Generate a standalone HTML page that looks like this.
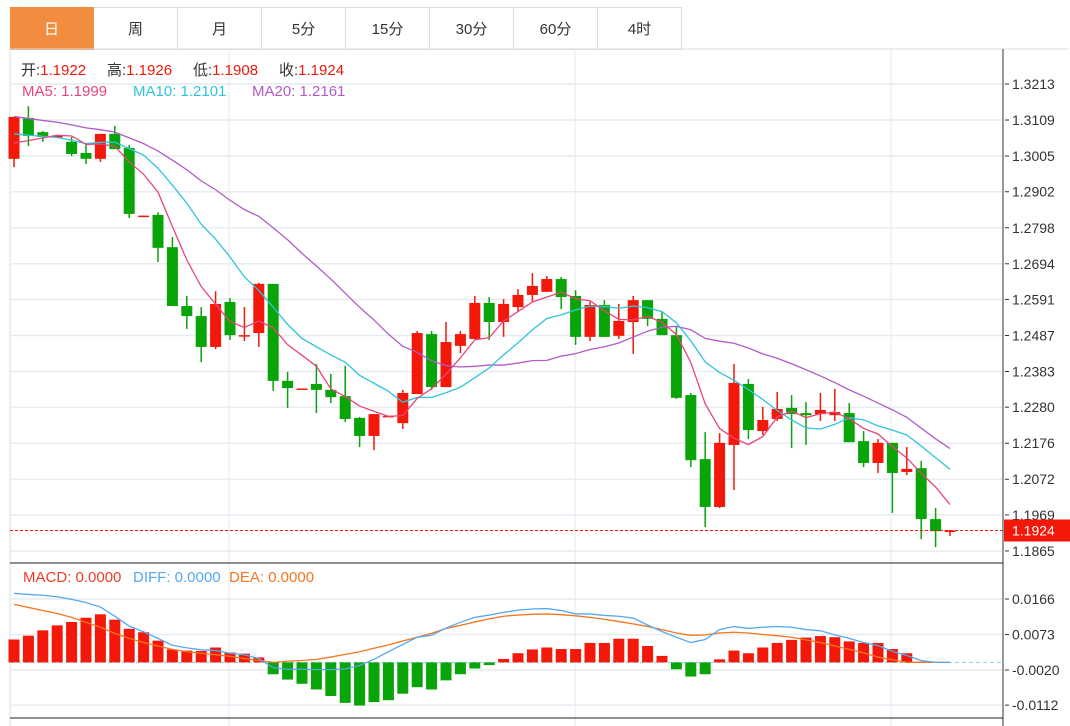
<!DOCTYPE html>
<html><head><meta charset="utf-8">
<style>
body{margin:0;background:#fff;width:1070px;height:726px;overflow:hidden;font-family:"Liberation Sans","Noto Sans CJK SC",sans-serif;}
#tabs{position:absolute;left:10px;top:7px;height:42px;display:flex;}
.tab{width:83px;height:41px;border:1px solid #dcdcdc;border-left:none;display:flex;align-items:center;justify-content:center;font-size:15px;color:#333;background:#fff;}
.tab.active{background:#f28d40;color:#fff;border-color:#f28d40;}
svg{position:absolute;left:0;top:0;}
</style></head><body>
<div id="tabs">
<div class="tab active">日</div>
<div class="tab">周</div>
<div class="tab">月</div>
<div class="tab">5分</div>
<div class="tab">15分</div>
<div class="tab">30分</div>
<div class="tab">60分</div>
<div class="tab">4时</div>
</div>
<svg id="chart" width="1070" height="726" font-family="Liberation Sans, Noto Sans CJK SC, sans-serif">
<line x1="10" y1="49" x2="1068" y2="49" stroke="#dcdcdc"/>
<line x1="10" y1="49" x2="10" y2="726" stroke="#dcdcdc"/>
<g id="grid"></g>
<g id="main"></g>
<g id="macd"></g>
<line x1="1003" y1="49" x2="1003" y2="726" stroke="#333"/>
<line x1="10" y1="563" x2="1003" y2="563" stroke="#222"/>
<line x1="10" y1="718" x2="1003" y2="718" stroke="#222"/>
<g id="axis"></g>
<g font-size="15">
<text x="21" y="75"><tspan fill="#333">开:</tspan><tspan fill="#f0180a">1.1922</tspan></text>
<text x="107" y="75"><tspan fill="#333">高:</tspan><tspan fill="#f0180a">1.1926</tspan></text>
<text x="193" y="75"><tspan fill="#333">低:</tspan><tspan fill="#f0180a">1.1908</tspan></text>
<text x="279" y="75"><tspan fill="#333">收:</tspan><tspan fill="#f0180a">1.1924</tspan></text>
</g>
<g font-size="15">
<text x="22" y="96" fill="#e9457a">MA5: 1.1999</text>
<text x="133" y="96" fill="#2ec4dd">MA10: 1.2101</text>
<text x="252" y="96" fill="#b05cc6">MA20: 1.2161</text>
</g>
<g font-size="15">
<text x="23" y="582" fill="#ee3a2a">MACD: 0.0000</text>
<text x="133" y="582" fill="#55a8f0">DIFF: 0.0000</text>
<text x="229" y="582" fill="#f7751e">DEA: 0.0000</text>
</g>
</svg>
<script>
const opens=[1.2997,1.3115,1.3074,1.3060,1.3046,1.3014,1.2997,1.3069,1.3028,1.2832,1.2835,1.2742,1.2572,1.2543,1.2454,1.2584,1.2486,1.2494,1.2636,1.2356,1.2333,1.2347,1.2330,1.2312,1.2249,1.2197,1.2254,1.2234,1.2318,1.2491,1.2338,1.2457,1.2477,1.2581,1.2526,1.2569,1.2604,1.2613,1.2650,1.2601,1.2483,1.2575,1.2486,1.2526,1.2589,1.2535,1.2488,1.2315,1.2130,1.1992,1.2171,1.2347,1.2211,1.2246,1.2278,1.2263,1.2260,1.2257,1.2263,1.2182,1.2119,1.2177,1.2093,1.2104,1.1957,1.1922];
const highs=[1.3118,1.3149,1.3077,1.3063,1.3060,1.3043,1.3069,1.3092,1.3037,1.2833,1.2843,1.2771,1.2601,1.2569,1.2615,1.2595,1.2569,1.2639,1.2636,1.2382,1.2334,1.2405,1.2376,1.2399,1.2252,1.2260,1.2255,1.2330,1.2500,1.2500,1.2526,1.2500,1.2601,1.2598,1.2592,1.2621,1.2667,1.2659,1.2656,1.2618,1.2584,1.2589,1.2578,1.2601,1.2589,1.2555,1.2512,1.2321,1.2208,1.2205,1.2405,1.2361,1.2281,1.2324,1.2315,1.2295,1.2321,1.2333,1.2292,1.2211,1.2188,1.2177,1.2165,1.2125,1.1989,1.1926];
const lows=[1.2973,1.3034,1.3046,1.3060,1.3005,1.2982,1.2988,1.3025,1.2826,1.2832,1.2699,1.2572,1.2506,1.2410,1.2448,1.2474,1.2471,1.2454,1.2327,1.2278,1.2333,1.2263,1.2292,1.2237,1.2165,1.2156,1.2254,1.2217,1.2318,1.2330,1.2338,1.2436,1.2477,1.2474,1.2483,1.2555,1.2584,1.2613,1.2563,1.2460,1.2471,1.2483,1.2477,1.2434,1.2514,1.2488,1.2304,1.2107,1.1934,1.1989,1.2041,1.2188,1.2200,1.2240,1.2162,1.2171,1.2240,1.2240,1.2179,1.2107,1.2090,1.1975,1.2084,1.1899,1.1876,1.1908];
const closes=[1.3118,1.3063,1.3060,1.3063,1.3011,1.2997,1.3069,1.3025,1.2838,1.2833,1.2740,1.2572,1.2543,1.2454,1.2578,1.2488,1.2488,1.2636,1.2356,1.2335,1.2334,1.2330,1.2309,1.2246,1.2197,1.2260,1.2255,1.2321,1.2494,1.2338,1.2468,1.2491,1.2581,1.2526,1.2578,1.2604,1.2630,1.2650,1.2598,1.2483,1.2575,1.2483,1.2529,1.2589,1.2535,1.2488,1.2307,1.2127,1.1992,1.2177,1.2350,1.2214,1.2243,1.2275,1.2260,1.2257,1.2272,1.2266,1.2179,1.2119,1.2177,1.2090,1.2102,1.1957,1.1922,1.1924];
const priorCloses=[1.3170,1.3175,1.3168,1.3165,1.3170,1.3172,1.3166,1.3168,1.3165,1.3171,1.3100,1.3092,1.3098,1.3090,1.3095,1.3030,1.3020,1.3025,1.3021];
const priceTicks=["1.3213","1.3109","1.3005","1.2902","1.2798","1.2694","1.2591","1.2487","1.2383","1.2280","1.2176","1.2072","1.1969","1.1865"];
const macdHist=[60,70,84,97,106,117,126,112,88,79,57,34,31,30,39,26,23,13,-31,-45,-56,-71,-88,-106,-113,-104,-99,-82,-65,-71,-47,-31,-16,-7,9,24,34,39,35,35,51,51,62,62,43,17,-18,-37,-31,8,31,24,39,51,59,65,69,66,55,51,51,35,24,2,1,0];
const diffVals=[181,178,176,172,165,157,145,121,95,80,63,45,38,33,31,24,20,10,-14,-18,-18,-19,-19,-17,-8,8,28,47,66,71,90,105,118,124,131,137,140,141,136,127,127,123,121,116,98,81,66,52,60,86,94,89,92,94,92,86,83,72,63,52,44,29,18,5,0,0];
const deaVals=[152,144,136,128,118,105,92,76,63,52,43,34,28,24,20,16,10,5,0,3,5,8,14,21,28,37,46,56,66,76,89,97,106,114,121,124,126,127,125,122,118,113,107,101,94,86,77,71,72,77,79,77,73,70,66,59,52,43,34,25,14,7,0,0,0,0];
const macdTicks=["0.0166","0.0073","-0.0020","-0.0112"];

const NS="http://www.w3.org/2000/svg";
function mk(tag,attrs,parent){const e=document.createElementNS(NS,tag);for(const k in attrs)e.setAttribute(k,attrs[k]);parent.appendChild(e);return e;}
const xOf=i=>14+i*14.4;
const yP=p=>84+(1.3213-p)*3464;
const yM=v=>662.4-v*0.0001*3817;
const grid=document.getElementById('grid'),main=document.getElementById('main'),macd=document.getElementById('macd'),axis=document.getElementById('axis');
[229,575,891].forEach(x=>mk('line',{x1:x,y1:49,x2:x,y2:726,stroke:'#e4ebf2'},grid));
priceTicks.forEach(t=>{const y=yP(parseFloat(t));
 mk('line',{x1:10,y1:y,x2:1003,y2:y,stroke:'#e6ecf2','stroke-width':1.5},grid);
 mk('line',{x1:1005,y1:y,x2:1009,y2:y,stroke:'#333'},axis);
 const tx=mk('text',{x:1012,y:y+5,'font-size':14,fill:'#333'},axis);tx.textContent=t;
 
 
});
macdTicks.forEach(t=>{const y=yM(parseFloat(t)*10000);
 mk('line',{x1:10,y1:y,x2:1003,y2:y,stroke:'#e6ecf2','stroke-width':1.5},grid);
 mk('line',{x1:1005,y1:y,x2:1009,y2:y,stroke:'#333'},axis);
 const tx=mk('text',{x:1012,y:y+5,'font-size':14,fill:'#333'},axis);tx.textContent=t;
 
 
});
const RED='#f2180a',GREEN='#08a408';
for(let i=0;i<opens.length;i++){
 const up=closes[i]>=opens[i],c=up?RED:GREEN,x=xOf(i);
 const g=mk('g',{},main);
 
 
 mk('line',{x1:x,y1:yP(highs[i]),x2:x,y2:yP(lows[i]),stroke:c,'stroke-width':1.5},g);
 const top=yP(Math.max(opens[i],closes[i])),bot=yP(Math.min(opens[i],closes[i]));
 mk('rect',{x:x-5.5,y:top,width:11,height:Math.max(1.5,bot-top),fill:c},g);
}
const all=priorCloses.concat(closes);
function ma(n){const out=[];for(let i=0;i<closes.length;i++){let s=0;const j=i+priorCloses.length;for(let k=0;k<n;k++)s+=all[j-k];out.push(s/n);}return out;}
[[20,'#b05cc6','ma20-line'],[10,'#2ec4dd','ma10-line'],[5,'#e9457a','ma5-line']].forEach(([n,col,name])=>{
 const v=ma(n);const pts=v.map((p,i)=>xOf(i)+','+yP(p)).join(' ');
 const pl=mk('polyline',{points:pts,fill:'none',stroke:col,'stroke-width':1.3},main);
 
 
});
const last=closes[closes.length-1],ly=yP(last);
mk('line',{x1:10,y1:ly,x2:1003,y2:ly,stroke:RED,'stroke-dasharray':'3,2'},main);
mk('rect',{x:1004,y:ly-11,width:66,height:22,fill:RED},axis);
const lt=mk('text',{x:1012,y:ly+5,'font-size':14,fill:'#fff'},axis);lt.textContent=last.toFixed(4);


const z=yM(0);
mk('line',{x1:10,y1:z,x2:1003,y2:z,stroke:'#8fd0ee','stroke-dasharray':'4,3'},macd);
macdHist.forEach((v,i)=>{const y=yM(v);const r=mk('rect',{x:xOf(i)-5.5,y:Math.min(y,z),width:11,height:Math.abs(y-z),fill:v>=0?RED:GREEN},macd);
 
 
});
[[deaVals,'#f7751e','dea-line'],[diffVals,'#55a8f0','diff-line']].forEach(([arr,col,name])=>{
 const pl=mk('polyline',{points:arr.map((v,i)=>xOf(i)+','+yM(v)).join(' '),fill:'none',stroke:col,'stroke-width':1.3},macd);
 
 
});
</script>
</body></html>
